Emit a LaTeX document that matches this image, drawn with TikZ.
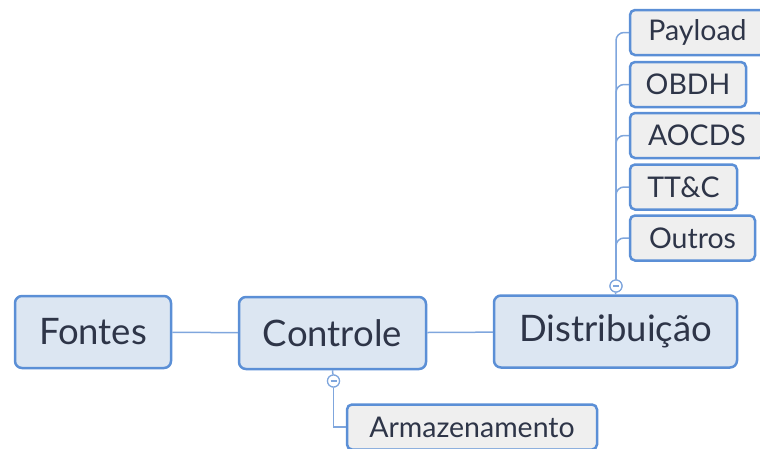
\documentclass[tikz,border=0pt]{standalone}
\usepackage{fontspec}
\setmainfont{Lato}
\definecolor{boxline}{HTML}{5B8FD6}
\definecolor{linkline}{HTML}{7FA6DD}
\definecolor{mainfill}{HTML}{DCE6F2}
\definecolor{subfill}{HTML}{EFEFEF}
\definecolor{inktext}{HTML}{2E3548}
\begin{document}
\begin{tikzpicture}[
                x=1pt, y=-1pt,
                mainbox/.style={draw=boxline, fill=mainfill, line width=2.5pt, rounded corners=7pt,
                    minimum height=72pt, text=inktext, font=\fontsize{36.5}{40}\selectfont},
                subbox/.style={draw=boxline, fill=subfill, line width=2.5pt, rounded corners=5pt,
                    minimum height=45pt, text=inktext, font=\fontsize{28.5}{32}\selectfont},
                link/.style={draw=linkline, line width=1.5pt},
                toggle/.style={circle, draw=linkline, fill=white, line width=1.2pt, minimum size=12pt, inner sep=0pt,
                    path picture={\draw[linkline, line width=1.2pt]
                        ([xshift=-3pt]path picture bounding box.center) -- ([xshift=3pt]path picture bounding box.center);}}
                ]
                \useasboundingbox (0,0) rectangle (760,448);
                \clip (0,0) rectangle (760,448);
                % main chain
                \node[mainbox, minimum width=156pt] (fontes) at (93,332) {Fontes};
                \node[mainbox, minimum width=187pt] (controle) at (332.5,333) {Controle};
                \node[mainbox, minimum width=243pt] (distrib) at (615.5,331.5) {Distribuição};
                % subsystems
                \node[subbox, minimum width=135pt] (payload) at (697.5,32.5) {Payload};
                \node[subbox, minimum width=116pt] (obdh) at (688,84.5) {OBDH};
                \node[subbox, minimum width=134pt] (aocds) at (697,135.5) {AOCDS};
                \node[subbox, minimum width=107pt] (ttc) at (683.5,187) {TT\&C};
                \node[subbox, minimum width=125pt] (outros) at (692.5,238) {Outros};
                \node[subbox, minimum width=250pt] (armaz) at (472,427) {Armazenamento};
                % toggles
                \node[toggle] (dtog) at (616,286) {};
                \node[toggle] (ctog) at (333.5,381) {};
                % links
                \draw[link] (fontes) -- (controle);
                \draw[link] (controle) -- (distrib);
                \draw[link] (distrib.north) -- (dtog);
                \draw[link] (controle.south) -- (ctog);
                \foreach \sub in {payload, obdh, aocds, ttc, outros}
                    \draw[link, rounded corners=8pt] (dtog.north) |- (\sub.west);
                \draw[link] (ctog.south) |- (armaz.west);
                % redraw toggles on top
                \node[toggle] at (dtog) {};
                \node[toggle] at (ctog) {};
            \end{tikzpicture}
\end{document}
